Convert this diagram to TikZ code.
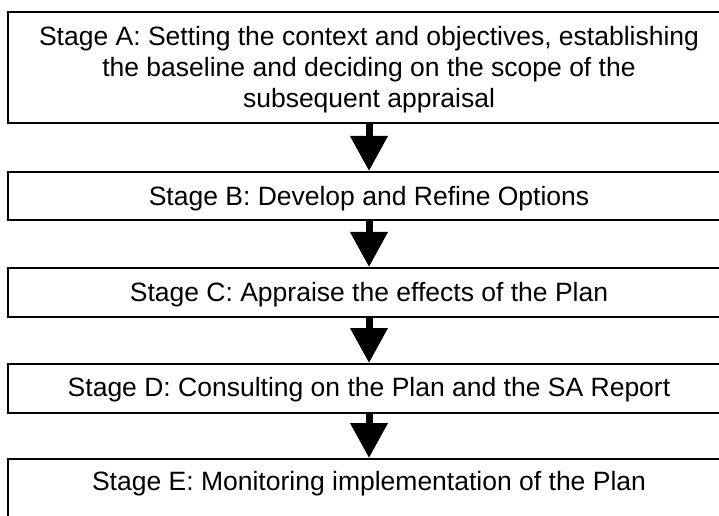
\documentclass[tikz,border=0pt]{standalone}
\usepackage{fontspec}
\setmainfont{Liberation Sans}
\usetikzlibrary{arrows.meta}
\begin{document}
\begin{tikzpicture}[x=1bp,y=-1bp,
  stagebox/.style={draw=black, line width=1.6bp, rectangle, minimum width=722bp, inner sep=0pt, anchor=north},
  stagetext/.style={font=\fontsize{26.5bp}{31bp}\selectfont, align=center, inner sep=0pt, anchor=base},
  flowarrow/.style={line width=7bp, -{Triangle[width=36bp,length=35bp]}}]
\useasboundingbox (0,0) rectangle (719,516);
\clip (0,0) rectangle (719,516);
\node[stagebox, minimum height=111bp] (A) at (369,11) {};
\node[stagebox, minimum height=48bp] (B) at (369,171) {};
\node[stagebox, minimum height=49bp] (C) at (369,267) {};
\node[stagebox, minimum height=49bp] (D) at (369,363) {};
\node[stagebox, minimum height=80bp] (E) at (369,458) {};
\node[stagetext] (tA) at (369,108) {Stage A: Setting the context and objectives, establishing\\the baseline and deciding on the scope of the\\subsequent appraisal};
\node[stagetext] (tB) at (369,206) {Stage B: Develop and Refine Options};
\node[stagetext] (tC) at (369,301.7) {Stage C: Appraise the effects of the Plan};
\node[stagetext] (tD) at (369,396.7) {Stage D: Consulting on the Plan and the SA Report};
\node[stagetext] (tE) at (369,490) {Stage E: Monitoring implementation of the Plan};
\draw[flowarrow] (A.south) -- (B.north);
\draw[flowarrow] (B.south) -- (C.north);
\draw[flowarrow] (C.south) -- (D.north);
\draw[flowarrow] (D.south) -- (E.north);
\end{tikzpicture}
\end{document}
